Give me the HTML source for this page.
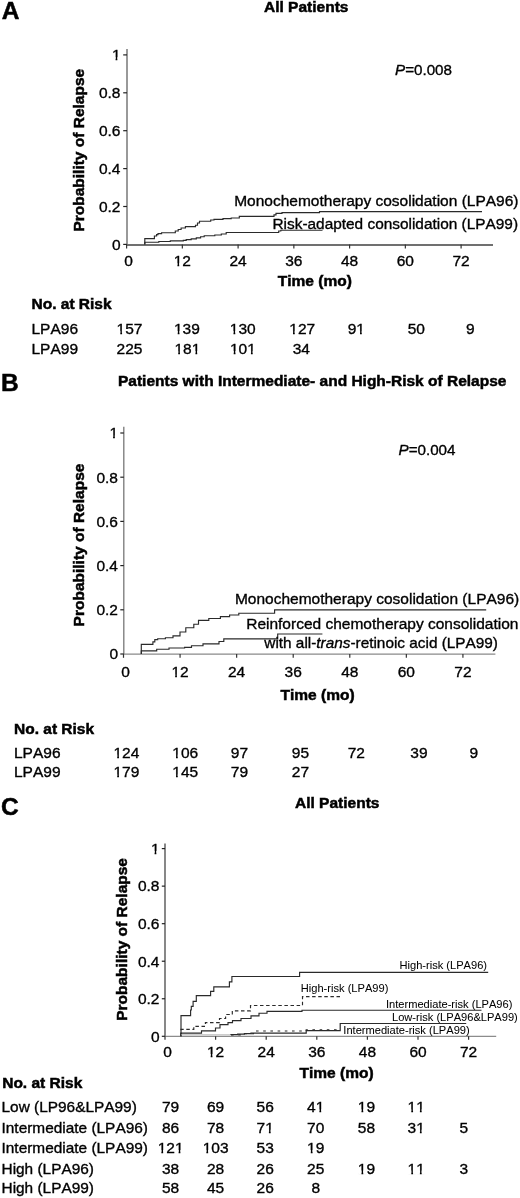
<!DOCTYPE html>
<html><head><meta charset="utf-8"><style>
html,body{margin:0;padding:0;background:#fff;}
body{width:520px;height:1198px;overflow:hidden;}
svg{display:block;filter:blur(0.35px);}
text{font-family:"Liberation Sans", sans-serif;fill:#000;stroke:#000;stroke-width:0.35px;font-kerning:none;}
text[font-weight=bold]{stroke-width:0.5px;}
</style></head><body>
<svg width="520" height="1198" viewBox="0 0 520 1198">
<text x="1.80" y="19.00" font-size="24.50" font-weight="bold">A</text>
<text x="264.00" y="11.90" font-size="15.50" font-weight="bold">All Patients</text>
<line x1="127.00" y1="49.00" x2="127.00" y2="244.40" stroke="#777" stroke-width="1.50"/>
<line x1="127.00" y1="244.90" x2="493.00" y2="244.90" stroke="#707070" stroke-width="2.00"/>
<line x1="123.20" y1="244.40" x2="127.00" y2="244.40" stroke="#222" stroke-width="1.20"/>
<text x="120.50" y="249.70" font-size="15.50" text-anchor="end">0</text>
<line x1="123.20" y1="206.50" x2="127.00" y2="206.50" stroke="#222" stroke-width="1.20"/>
<text x="120.50" y="211.80" font-size="15.50" text-anchor="end">0.2</text>
<line x1="123.20" y1="168.60" x2="127.00" y2="168.60" stroke="#222" stroke-width="1.20"/>
<text x="120.50" y="173.90" font-size="15.50" text-anchor="end">0.4</text>
<line x1="123.20" y1="130.70" x2="127.00" y2="130.70" stroke="#222" stroke-width="1.20"/>
<text x="120.50" y="136.00" font-size="15.50" text-anchor="end">0.6</text>
<line x1="123.20" y1="92.80" x2="127.00" y2="92.80" stroke="#222" stroke-width="1.20"/>
<text x="120.50" y="98.10" font-size="15.50" text-anchor="end">0.8</text>
<line x1="123.20" y1="54.90" x2="127.00" y2="54.90" stroke="#222" stroke-width="1.20"/>
<text x="120.50" y="60.20" font-size="15.50" text-anchor="end">1</text>
<line x1="126.60" y1="244.40" x2="126.60" y2="248.40" stroke="#333" stroke-width="1.20"/>
<text x="128.60" y="266.20" font-size="15.50" text-anchor="middle">0</text>
<line x1="182.35" y1="244.40" x2="182.35" y2="248.40" stroke="#333" stroke-width="1.20"/>
<text x="182.35" y="266.20" font-size="15.50" text-anchor="middle">12</text>
<line x1="238.10" y1="244.40" x2="238.10" y2="248.40" stroke="#333" stroke-width="1.20"/>
<text x="238.10" y="266.20" font-size="15.50" text-anchor="middle">24</text>
<line x1="293.85" y1="244.40" x2="293.85" y2="248.40" stroke="#333" stroke-width="1.20"/>
<text x="293.85" y="266.20" font-size="15.50" text-anchor="middle">36</text>
<line x1="349.60" y1="244.40" x2="349.60" y2="248.40" stroke="#333" stroke-width="1.20"/>
<text x="349.60" y="266.20" font-size="15.50" text-anchor="middle">48</text>
<line x1="405.35" y1="244.40" x2="405.35" y2="248.40" stroke="#333" stroke-width="1.20"/>
<text x="405.35" y="266.20" font-size="15.50" text-anchor="middle">60</text>
<line x1="461.10" y1="244.40" x2="461.10" y2="248.40" stroke="#333" stroke-width="1.20"/>
<text x="461.10" y="266.20" font-size="15.50" text-anchor="middle">72</text>
<text x="277.80" y="285.80" font-size="15.50" font-weight="bold">Time (mo)</text>
<text x="84.30" y="150.20" font-size="15.50" font-weight="bold" text-anchor="middle" transform="rotate(-90 84.30 150.2)">Probability of Relapse</text>
<text x="395.00" y="74.90" font-size="15.20"><tspan font-style="italic">P</tspan>=0.008</text>
<path d="M144.80 244.40 H144.80 V238.60 H154.40 V236.00 H156.60 V234.60 H158.00 V233.60 H161.60 V232.70 H175.30 V231.00 H178.20 V229.50 H181.10 V228.00 H185.40 V226.60 H195.50 V225.20 H197.50 V223.00 H199.50 V221.20 H210.70 V220.00 H214.00 V219.40 H223.00 V218.60 H231.20 V218.00 H239.30 V216.30 H274.00 V214.80 H276.00 V213.40 H282.00 V212.60 H319.50 V211.60 H482.00" fill="none" stroke="#2a2a2a" stroke-width="1.15"/>
<path d="M144.80 244.40 H144.80 V242.20 H158.80 V241.50 H170.30 V240.80 H183.30 V240.30 H186.20 V239.60 H191.20 V238.90 H196.30 V237.90 H200.60 V236.70 H204.20 V235.70 H214.80 V235.00 H221.30 V234.00 H226.20 V232.50 H278.70 V231.00 H280.80 V230.20 H322.50" fill="none" stroke="#2a2a2a" stroke-width="1.15"/>
<text x="234.20" y="206.30" font-size="15.50">Monochemotherapy cosolidation (LPA96)</text>
<text x="272.50" y="228.60" font-size="15.40">Risk-adapted consolidation (LPA99)</text>
<text x="31.50" y="309.30" font-size="15.50" font-weight="bold">No. at Risk</text>
<text x="31.50" y="334.00" font-size="15.50">LPA96</text>
<text x="31.50" y="354.00" font-size="15.50">LPA99</text>
<text x="116.60" y="334.00" font-size="15.50">157</text>
<text x="174.00" y="334.00" font-size="15.50">139</text>
<text x="229.80" y="334.00" font-size="15.50">130</text>
<text x="289.30" y="334.00" font-size="15.50">127</text>
<text x="347.70" y="334.00" font-size="15.50">91</text>
<text x="407.70" y="334.00" font-size="15.50">50</text>
<text x="466.00" y="334.00" font-size="15.50">9</text>
<text x="116.60" y="354.00" font-size="15.50">225</text>
<text x="174.50" y="354.00" font-size="15.50">181</text>
<text x="230.00" y="354.00" font-size="15.50">101</text>
<text x="292.70" y="354.00" font-size="15.50">34</text>
<text x="1.00" y="391.00" font-size="24.50" font-weight="bold">B</text>
<text x="118.00" y="385.60" font-size="15.50" font-weight="bold">Patients with Intermediate- and High-Risk of Relapse</text>
<line x1="123.80" y1="426.70" x2="123.80" y2="654.00" stroke="#777" stroke-width="1.30"/>
<line x1="123.80" y1="654.10" x2="495.40" y2="654.10" stroke="#8a8a8a" stroke-width="1.20"/>
<line x1="120.30" y1="654.00" x2="123.80" y2="654.00" stroke="#222" stroke-width="1.20"/>
<text x="118.00" y="659.30" font-size="15.50" text-anchor="end">0</text>
<line x1="120.30" y1="609.80" x2="123.80" y2="609.80" stroke="#222" stroke-width="1.20"/>
<text x="118.00" y="615.10" font-size="15.50" text-anchor="end">0.2</text>
<line x1="120.30" y1="565.60" x2="123.80" y2="565.60" stroke="#222" stroke-width="1.20"/>
<text x="118.00" y="570.90" font-size="15.50" text-anchor="end">0.4</text>
<line x1="120.30" y1="521.40" x2="123.80" y2="521.40" stroke="#222" stroke-width="1.20"/>
<text x="118.00" y="526.70" font-size="15.50" text-anchor="end">0.6</text>
<line x1="120.30" y1="477.20" x2="123.80" y2="477.20" stroke="#222" stroke-width="1.20"/>
<text x="118.00" y="482.50" font-size="15.50" text-anchor="end">0.8</text>
<line x1="120.30" y1="433.00" x2="123.80" y2="433.00" stroke="#222" stroke-width="1.20"/>
<text x="118.00" y="438.30" font-size="15.50" text-anchor="end">1</text>
<line x1="123.50" y1="654.00" x2="123.50" y2="657.80" stroke="#333" stroke-width="1.20"/>
<text x="125.50" y="677.30" font-size="15.50" text-anchor="middle">0</text>
<line x1="180.07" y1="654.00" x2="180.07" y2="657.80" stroke="#333" stroke-width="1.20"/>
<text x="180.07" y="677.30" font-size="15.50" text-anchor="middle">12</text>
<line x1="236.64" y1="654.00" x2="236.64" y2="657.80" stroke="#333" stroke-width="1.20"/>
<text x="236.64" y="677.30" font-size="15.50" text-anchor="middle">24</text>
<line x1="293.21" y1="654.00" x2="293.21" y2="657.80" stroke="#333" stroke-width="1.20"/>
<text x="293.21" y="677.30" font-size="15.50" text-anchor="middle">36</text>
<line x1="349.78" y1="654.00" x2="349.78" y2="657.80" stroke="#333" stroke-width="1.20"/>
<text x="349.78" y="677.30" font-size="15.50" text-anchor="middle">48</text>
<line x1="406.35" y1="654.00" x2="406.35" y2="657.80" stroke="#333" stroke-width="1.20"/>
<text x="406.35" y="677.30" font-size="15.50" text-anchor="middle">60</text>
<line x1="462.92" y1="654.00" x2="462.92" y2="657.80" stroke="#333" stroke-width="1.20"/>
<text x="462.92" y="677.30" font-size="15.50" text-anchor="middle">72</text>
<text x="280.50" y="699.60" font-size="15.50" font-weight="bold">Time (mo)</text>
<text x="84.30" y="545.00" font-size="15.50" font-weight="bold" text-anchor="middle" transform="rotate(-90 84.3 545.0)">Probability of Relapse</text>
<text x="398.50" y="454.50" font-size="15.20"><tspan font-style="italic">P</tspan>=0.004</text>
<path d="M141.30 654.00 H141.30 V644.40 H152.90 V641.80 H154.80 V639.60 H157.70 V638.70 H165.40 V637.70 H173.00 V635.80 H180.00 V632.00 H185.80 V627.70 H193.80 V624.20 H198.50 V620.30 H208.80 V618.50 H220.40 V616.60 H229.60 V615.00 H238.80 V613.20 H274.60 V609.80 H486.20" fill="none" stroke="#2a2a2a" stroke-width="1.15"/>
<path d="M141.30 654.00 H141.30 V650.80 H156.70 V649.20 H169.00 V648.00 H184.60 V647.30 H191.50 V645.70 H203.00 V643.80 H219.00 V641.50 H223.80 V638.80 H277.70 V634.00 H322.40" fill="none" stroke="#2a2a2a" stroke-width="1.15"/>
<text x="234.90" y="604.40" font-size="15.50">Monochemotherapy cosolidation (LPA96)</text>
<text x="246.20" y="628.90" font-size="15.50">Reinforced chemotherapy consolidation</text>
<text x="264.30" y="647.70" font-size="15.35">with all-<tspan font-style="italic">trans</tspan>-retinoic acid (LPA99)</text>
<text x="14.00" y="733.70" font-size="15.50" font-weight="bold">No. at Risk</text>
<text x="14.00" y="757.60" font-size="15.50">LPA96</text>
<text x="14.00" y="777.40" font-size="15.50">LPA99</text>
<text x="113.50" y="757.60" font-size="15.50">124</text>
<text x="172.30" y="757.60" font-size="15.50">106</text>
<text x="230.80" y="757.60" font-size="15.50">97</text>
<text x="291.80" y="757.60" font-size="15.50">95</text>
<text x="347.70" y="757.60" font-size="15.50">72</text>
<text x="410.30" y="757.60" font-size="15.50">39</text>
<text x="469.50" y="757.60" font-size="15.50">9</text>
<text x="113.50" y="777.40" font-size="15.50">179</text>
<text x="172.30" y="777.40" font-size="15.50">145</text>
<text x="230.80" y="777.40" font-size="15.50">79</text>
<text x="291.80" y="777.40" font-size="15.50">27</text>
<text x="1.00" y="815.30" font-size="24.50" font-weight="bold">C</text>
<text x="295.00" y="808.20" font-size="15.50" font-weight="bold">All Patients</text>
<line x1="165.00" y1="843.50" x2="165.00" y2="1036.30" stroke="#383838" stroke-width="1.20"/>
<line x1="165.00" y1="1036.40" x2="496.20" y2="1036.40" stroke="#8c8c8c" stroke-width="1.30"/>
<line x1="161.80" y1="1036.30" x2="165.00" y2="1036.30" stroke="#222" stroke-width="1.20"/>
<text x="159.50" y="1041.60" font-size="15.50" text-anchor="end">0</text>
<line x1="161.80" y1="998.76" x2="165.00" y2="998.76" stroke="#222" stroke-width="1.20"/>
<text x="159.50" y="1004.06" font-size="15.50" text-anchor="end">0.2</text>
<line x1="161.80" y1="961.22" x2="165.00" y2="961.22" stroke="#222" stroke-width="1.20"/>
<text x="159.50" y="966.52" font-size="15.50" text-anchor="end">0.4</text>
<line x1="161.80" y1="923.68" x2="165.00" y2="923.68" stroke="#222" stroke-width="1.20"/>
<text x="159.50" y="928.98" font-size="15.50" text-anchor="end">0.6</text>
<line x1="161.80" y1="886.14" x2="165.00" y2="886.14" stroke="#222" stroke-width="1.20"/>
<text x="159.50" y="891.44" font-size="15.50" text-anchor="end">0.8</text>
<line x1="161.80" y1="848.60" x2="165.00" y2="848.60" stroke="#222" stroke-width="1.20"/>
<text x="159.50" y="853.90" font-size="15.50" text-anchor="end">1</text>
<line x1="165.00" y1="1036.30" x2="165.00" y2="1039.80" stroke="#333" stroke-width="1.20"/>
<text x="167.50" y="1057.00" font-size="15.50" text-anchor="middle">0</text>
<line x1="215.60" y1="1036.30" x2="215.60" y2="1039.80" stroke="#333" stroke-width="1.20"/>
<text x="215.60" y="1057.00" font-size="15.50" text-anchor="middle">12</text>
<line x1="266.20" y1="1036.30" x2="266.20" y2="1039.80" stroke="#333" stroke-width="1.20"/>
<text x="266.20" y="1057.00" font-size="15.50" text-anchor="middle">24</text>
<line x1="316.80" y1="1036.30" x2="316.80" y2="1039.80" stroke="#333" stroke-width="1.20"/>
<text x="316.80" y="1057.00" font-size="15.50" text-anchor="middle">36</text>
<line x1="367.40" y1="1036.30" x2="367.40" y2="1039.80" stroke="#333" stroke-width="1.20"/>
<text x="367.40" y="1057.00" font-size="15.50" text-anchor="middle">48</text>
<line x1="418.00" y1="1036.30" x2="418.00" y2="1039.80" stroke="#333" stroke-width="1.20"/>
<text x="418.00" y="1057.00" font-size="15.50" text-anchor="middle">60</text>
<line x1="468.60" y1="1036.30" x2="468.60" y2="1039.80" stroke="#333" stroke-width="1.20"/>
<text x="468.60" y="1057.00" font-size="15.50" text-anchor="middle">72</text>
<text x="299.50" y="1078.00" font-size="15.50" font-weight="bold">Time (mo)</text>
<text x="127.20" y="939.40" font-size="15.50" font-weight="bold" text-anchor="middle" transform="rotate(-90 127.2 939.4)">Probability of Relapse</text>
<path d="M181.00 1036.30 H181.00 V1015.60 H190.60 V1010.00 H191.30 V1006.30 H193.10 V1001.30 H196.30 V995.60 H210.60 V991.30 H213.80 V986.90 H229.40 V981.90 H231.90 V976.50 H299.60 V972.30 H488.20" fill="none" stroke="#2a2a2a" stroke-width="1.15"/>
<path d="M181.00 1036.30 H181.00 V1029.40 H193.80 V1026.30 H205.40 V1022.60 H219.50 V1018.50 H225.60 V1014.50 H232.30 V1010.90 H250.50 V1005.50 H302.50 V996.60 H341.50" fill="none" stroke="#2a2a2a" stroke-width="1.15" stroke-dasharray="3.5,2.6"/>
<path d="M181.00 1036.30 H181.00 V1033.10 H201.50 V1030.80 H215.50 V1028.00 H220.00 V1024.60 H228.00 V1022.60 H232.50 V1020.60 H241.00 V1018.50 H251.00 V1015.90 H259.00 V1013.20 H267.00 V1011.40 H302.00 V1010.20 H481.50" fill="none" stroke="#2a2a2a" stroke-width="1.15"/>
<line x1="181.00" y1="1034.80" x2="231.00" y2="1034.80" stroke="#b0b0b0" stroke-width="0.90"/>
<path d="M231.00 1034.90 H231.00 V1034.60 H237.70 V1034.10 H244.40 V1033.60 H251.00 V1033.20 H306.20 V1030.60 H340.20 V1023.50 H466.20" fill="none" stroke="#2a2a2a" stroke-width="1.20"/>
<path d="M231.00 1034.80 H244.00 V1033.70 H253.50 V1031.00 H306.20 V1029.80 H340.20" fill="none" stroke="#2a2a2a" stroke-width="1.15" stroke-dasharray="2.6,4.6"/>
<text x="399.50" y="969.00" font-size="11.10" style="stroke-width:0.05px">High-risk (LPA96)</text>
<text x="300.80" y="991.90" font-size="11.10" style="stroke-width:0.05px">High-risk (LPA99)</text>
<text x="386.00" y="1007.50" font-size="11.10" style="stroke-width:0.05px">Intermediate-risk (LPA96)</text>
<text x="392.00" y="1021.00" font-size="11.10" style="stroke-width:0.05px">Low-risk (LPA96&amp;LPA99)</text>
<text x="343.30" y="1033.50" font-size="11.10" style="stroke-width:0.05px">Intermediate-risk (LPA99)</text>
<text x="2.20" y="1088.10" font-size="15.50" font-weight="bold">No. at Risk</text>
<text x="1.50" y="1112.30" font-size="15.42">Low (LP96&amp;LPA99)</text>
<text x="1.50" y="1132.70" font-size="15.42">Intermediate (LPA96)</text>
<text x="1.50" y="1153.00" font-size="15.42">Intermediate (LPA99)</text>
<text x="1.50" y="1173.50" font-size="15.42">High (LPA96)</text>
<text x="1.50" y="1193.30" font-size="15.42">High (LPA99)</text>
<text x="170.60" y="1112.30" font-size="15.50" text-anchor="middle">79</text>
<text x="215.60" y="1112.30" font-size="15.50" text-anchor="middle">69</text>
<text x="265.20" y="1112.30" font-size="15.50" text-anchor="middle">56</text>
<text x="315.70" y="1112.30" font-size="15.50" text-anchor="middle">41</text>
<text x="366.40" y="1112.30" font-size="15.50" text-anchor="middle">19</text>
<text x="416.20" y="1112.30" font-size="15.50" text-anchor="middle">11</text>
<text x="170.60" y="1132.70" font-size="15.50" text-anchor="middle">86</text>
<text x="215.60" y="1132.70" font-size="15.50" text-anchor="middle">78</text>
<text x="265.20" y="1132.70" font-size="15.50" text-anchor="middle">71</text>
<text x="315.70" y="1132.70" font-size="15.50" text-anchor="middle">70</text>
<text x="366.40" y="1132.70" font-size="15.50" text-anchor="middle">58</text>
<text x="416.20" y="1132.70" font-size="15.50" text-anchor="middle">31</text>
<text x="463.70" y="1132.70" font-size="15.50" text-anchor="middle">5</text>
<text x="170.60" y="1153.00" font-size="15.50" text-anchor="middle">121</text>
<text x="215.60" y="1153.00" font-size="15.50" text-anchor="middle">103</text>
<text x="265.20" y="1153.00" font-size="15.50" text-anchor="middle">53</text>
<text x="315.70" y="1153.00" font-size="15.50" text-anchor="middle">19</text>
<text x="170.60" y="1173.50" font-size="15.50" text-anchor="middle">38</text>
<text x="215.60" y="1173.50" font-size="15.50" text-anchor="middle">28</text>
<text x="265.20" y="1173.50" font-size="15.50" text-anchor="middle">26</text>
<text x="315.70" y="1173.50" font-size="15.50" text-anchor="middle">25</text>
<text x="366.40" y="1173.50" font-size="15.50" text-anchor="middle">19</text>
<text x="416.20" y="1173.50" font-size="15.50" text-anchor="middle">11</text>
<text x="463.70" y="1173.50" font-size="15.50" text-anchor="middle">3</text>
<text x="170.60" y="1193.30" font-size="15.50" text-anchor="middle">58</text>
<text x="215.60" y="1193.30" font-size="15.50" text-anchor="middle">45</text>
<text x="265.20" y="1193.30" font-size="15.50" text-anchor="middle">26</text>
<text x="315.70" y="1193.30" font-size="15.50" text-anchor="middle">8</text>
<rect x="112.16" y="57.24" width="3.42" height="4.36" fill="#fff"/>
<rect x="117.35" y="57.24" width="3.30" height="4.36" fill="#fff"/>
<rect x="174.01" y="263.24" width="3.42" height="4.36" fill="#fff"/>
<rect x="179.20" y="263.24" width="3.30" height="4.36" fill="#fff"/>
<rect x="116.88" y="331.04" width="3.42" height="4.36" fill="#fff"/>
<rect x="122.07" y="331.04" width="3.30" height="4.36" fill="#fff"/>
<rect x="174.28" y="331.04" width="3.42" height="4.36" fill="#fff"/>
<rect x="179.47" y="331.04" width="3.30" height="4.36" fill="#fff"/>
<rect x="230.08" y="331.04" width="3.42" height="4.36" fill="#fff"/>
<rect x="235.27" y="331.04" width="3.30" height="4.36" fill="#fff"/>
<rect x="289.58" y="331.04" width="3.42" height="4.36" fill="#fff"/>
<rect x="294.77" y="331.04" width="3.30" height="4.36" fill="#fff"/>
<rect x="356.60" y="331.04" width="3.42" height="4.36" fill="#fff"/>
<rect x="361.79" y="331.04" width="3.30" height="4.36" fill="#fff"/>
<rect x="174.78" y="351.04" width="3.42" height="4.36" fill="#fff"/>
<rect x="179.97" y="351.04" width="3.30" height="4.36" fill="#fff"/>
<rect x="192.02" y="351.04" width="3.42" height="4.36" fill="#fff"/>
<rect x="197.21" y="351.04" width="3.30" height="4.36" fill="#fff"/>
<rect x="230.28" y="351.04" width="3.42" height="4.36" fill="#fff"/>
<rect x="235.47" y="351.04" width="3.30" height="4.36" fill="#fff"/>
<rect x="247.52" y="351.04" width="3.42" height="4.36" fill="#fff"/>
<rect x="252.71" y="351.04" width="3.30" height="4.36" fill="#fff"/>
<rect x="109.66" y="435.34" width="3.42" height="4.36" fill="#fff"/>
<rect x="114.85" y="435.34" width="3.30" height="4.36" fill="#fff"/>
<rect x="171.73" y="674.34" width="3.42" height="4.36" fill="#fff"/>
<rect x="176.92" y="674.34" width="3.30" height="4.36" fill="#fff"/>
<rect x="113.78" y="754.64" width="3.42" height="4.36" fill="#fff"/>
<rect x="118.97" y="754.64" width="3.30" height="4.36" fill="#fff"/>
<rect x="172.58" y="754.64" width="3.42" height="4.36" fill="#fff"/>
<rect x="177.77" y="754.64" width="3.30" height="4.36" fill="#fff"/>
<rect x="113.78" y="774.44" width="3.42" height="4.36" fill="#fff"/>
<rect x="118.97" y="774.44" width="3.30" height="4.36" fill="#fff"/>
<rect x="172.58" y="774.44" width="3.42" height="4.36" fill="#fff"/>
<rect x="177.77" y="774.44" width="3.30" height="4.36" fill="#fff"/>
<rect x="151.16" y="850.94" width="3.42" height="4.36" fill="#fff"/>
<rect x="156.35" y="850.94" width="3.30" height="4.36" fill="#fff"/>
<rect x="207.26" y="1054.04" width="3.42" height="4.36" fill="#fff"/>
<rect x="212.45" y="1054.04" width="3.30" height="4.36" fill="#fff"/>
<rect x="315.98" y="1109.34" width="3.42" height="4.36" fill="#fff"/>
<rect x="321.17" y="1109.34" width="3.30" height="4.36" fill="#fff"/>
<rect x="358.06" y="1109.34" width="3.42" height="4.36" fill="#fff"/>
<rect x="363.25" y="1109.34" width="3.30" height="4.36" fill="#fff"/>
<rect x="407.86" y="1109.34" width="3.42" height="4.36" fill="#fff"/>
<rect x="413.05" y="1109.34" width="3.30" height="4.36" fill="#fff"/>
<rect x="416.48" y="1109.34" width="3.42" height="4.36" fill="#fff"/>
<rect x="421.67" y="1109.34" width="3.30" height="4.36" fill="#fff"/>
<rect x="265.48" y="1129.74" width="3.42" height="4.36" fill="#fff"/>
<rect x="270.67" y="1129.74" width="3.30" height="4.36" fill="#fff"/>
<rect x="416.48" y="1129.74" width="3.42" height="4.36" fill="#fff"/>
<rect x="421.67" y="1129.74" width="3.30" height="4.36" fill="#fff"/>
<rect x="157.95" y="1150.04" width="3.42" height="4.36" fill="#fff"/>
<rect x="163.14" y="1150.04" width="3.30" height="4.36" fill="#fff"/>
<rect x="175.19" y="1150.04" width="3.42" height="4.36" fill="#fff"/>
<rect x="180.38" y="1150.04" width="3.30" height="4.36" fill="#fff"/>
<rect x="202.95" y="1150.04" width="3.42" height="4.36" fill="#fff"/>
<rect x="208.14" y="1150.04" width="3.30" height="4.36" fill="#fff"/>
<rect x="307.36" y="1150.04" width="3.42" height="4.36" fill="#fff"/>
<rect x="312.55" y="1150.04" width="3.30" height="4.36" fill="#fff"/>
<rect x="358.06" y="1170.54" width="3.42" height="4.36" fill="#fff"/>
<rect x="363.25" y="1170.54" width="3.30" height="4.36" fill="#fff"/>
<rect x="407.86" y="1170.54" width="3.42" height="4.36" fill="#fff"/>
<rect x="413.05" y="1170.54" width="3.30" height="4.36" fill="#fff"/>
<rect x="416.48" y="1170.54" width="3.42" height="4.36" fill="#fff"/>
<rect x="421.67" y="1170.54" width="3.30" height="4.36" fill="#fff"/>
</svg>
</body></html>
